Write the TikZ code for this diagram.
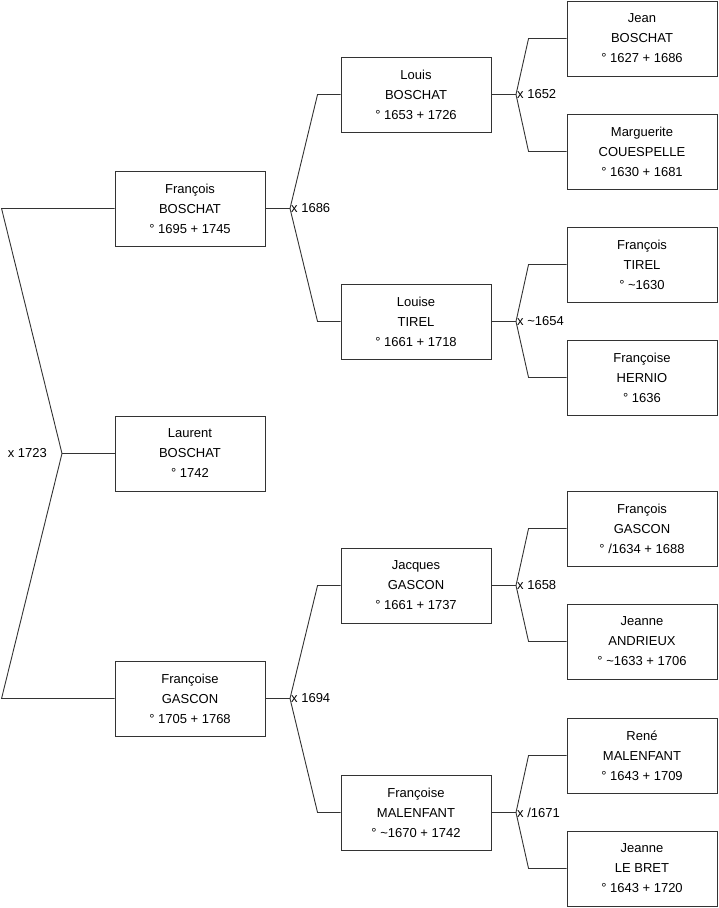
\documentclass[tikz,border=0pt]{standalone}
\usepackage{fontspec}
\setmainfont{Liberation Sans}
\usetikzlibrary{positioning}

\begin{document}
\begin{tikzpicture}[x=1pt,y=-1pt,
    person/.style={draw=black!80,line width=0.9pt,minimum width=150pt,minimum height=75pt,
      align=center,inner sep=0pt,font=\fontsize{13}{20}\selectfont},
    link/.style={draw=black!80,line width=0.9pt},
    wed/.style={font=\fontsize{13}{14}\selectfont,inner sep=1pt}]
  \useasboundingbox[fill=white] (0,0) rectangle (719,908);

  % generation 1
  \node[person] (fb) at (190,208.5) {François\\BOSCHAT\\° 1695 + 1745};
  \node[person] (lau) at (190,453.5) {Laurent\\BOSCHAT\\° 1742};
  \node[person] (fg) at (190,698.5) {Françoise\\GASCON\\° 1705 + 1768};

  % generation 2
  \node[person] (lb) at (416,94.5) {Louis\\BOSCHAT\\° 1653 + 1726};
  \node[person] (lt) at (416,321.5) {Louise\\TIREL\\° 1661 + 1718};
  \node[person] (jg) at (416,585.5) {Jacques\\GASCON\\° 1661 + 1737};
  \node[person] (fm) at (416,812.5) {Françoise\\MALENFANT\\° \textasciitilde1670 + 1742};

  % generation 3
  \node[person] (jb) at (642,38.5) {Jean\\BOSCHAT\\° 1627 + 1686};
  \node[person] (mc) at (642,151.5) {Marguerite\\COUESPELLE\\° 1630 + 1681};
  \node[person] (ft) at (642,264.5) {François\\TIREL\\° \textasciitilde1630};
  \node[person] (fh) at (642,377.5) {Françoise\\HERNIO\\° 1636};
  \node[person] (fgg) at (642,528.5) {François\\GASCON\\° /1634 + 1688};
  \node[person] (ja) at (642,641.5) {Jeanne\\ANDRIEUX\\° \textasciitilde1633 + 1706};
  \node[person] (rm) at (642,755.5) {René\\MALENFANT\\° 1643 + 1709};
  \node[person] (jlb) at (642,868.5) {Jeanne\\LE BRET\\° 1643 + 1720};

  % marriage points
  \coordinate (m0) at (62,453.5);
  \coordinate (m1) at (290,208.5);
  \coordinate (m2) at (290,698.5);
  \coordinate (m3) at (516,94.5);
  \coordinate (m4) at (516,321.5);
  \coordinate (m5) at (516,585.5);
  \coordinate (m6) at (516,812.5);

  \node[wed,left=14pt of m0] (w0) {x 1723};
  \node[wed,right=0pt of m1] (w1) {x 1686};
  \node[wed,right=0pt of m2] (w2) {x 1694};
  \node[wed,right=0pt of m3] (w3) {x 1652};
  \node[wed,right=0pt of m4] (w4) {x \textasciitilde1654};
  \node[wed,right=0pt of m5] (w5) {x 1658};
  \node[wed,right=0pt of m6] (w6) {x /1671};

  % links
  \draw[link] (lau.west) -- (m0);
  \draw[link] (fb.west) -- ([xshift=-113pt]fb.west) -- (m0) -- ([xshift=-113pt]fg.west) -- (fg.west);

  \draw[link] (fb.east) -- (m1);
  \draw[link] (lb.west) -- ([xshift=-23pt]lb.west) -- (m1) -- ([xshift=-23pt]lt.west) -- (lt.west);
  \draw[link] (fg.east) -- (m2);
  \draw[link] (jg.west) -- ([xshift=-23pt]jg.west) -- (m2) -- ([xshift=-23pt]fm.west) -- (fm.west);

  \draw[link] (lb.east) -- (m3);
  \draw[link] (jb.west) -- ([xshift=-38pt]jb.west) -- (m3) -- ([xshift=-38pt]mc.west) -- (mc.west);
  \draw[link] (lt.east) -- (m4);
  \draw[link] (ft.west) -- ([xshift=-38pt]ft.west) -- (m4) -- ([xshift=-38pt]fh.west) -- (fh.west);
  \draw[link] (jg.east) -- (m5);
  \draw[link] (fgg.west) -- ([xshift=-38pt]fgg.west) -- (m5) -- ([xshift=-38pt]ja.west) -- (ja.west);
  \draw[link] (fm.east) -- (m6);
  \draw[link] (rm.west) -- ([xshift=-38pt]rm.west) -- (m6) -- ([xshift=-38pt]jlb.west) -- (jlb.west);
\end{tikzpicture}
\end{document}
